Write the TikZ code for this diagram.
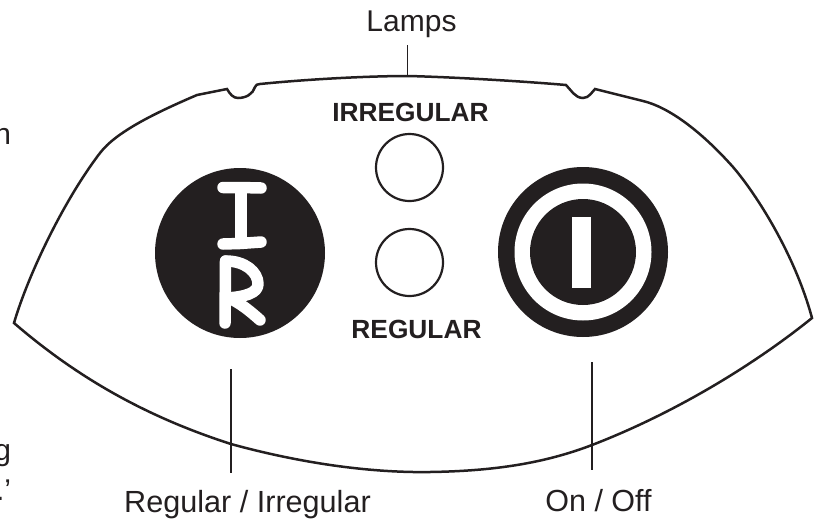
\documentclass[tikz,border=0pt]{standalone}
\usepackage{fontspec}
\setmainfont{Liberation Sans}
\definecolor{ink}{HTML}{231F20}
\tikzset{
  lbl/.style={inner sep=0pt,outer sep=0pt,anchor=base,text=ink,font=\fontsize{30}{34}\selectfont},
  lblr/.style={lbl,anchor=base east},
  sw/.style={inner sep=0pt,outer sep=0pt,anchor=base,text=ink,font=\fontsize{26.3}{30}\selectfont\bfseries},
  outline/.style={draw=ink,line width=2.5pt,line join=miter},
  leader/.style={draw=ink,line width=1.5pt},
  disc/.style={circle,fill=ink,inner sep=0pt,outer sep=0pt,minimum size=#1},
  lamp/.style={circle,draw=ink,line width=2.2pt,fill=white,inner sep=0pt,outer sep=0pt,minimum size=67pt},
  glyph/.style={draw=white,line width=11.5pt,line cap=round,line join=round}
}
\begin{document}
\begin{tikzpicture}[x=1pt,y=-1pt]
\useasboundingbox (0,0) rectangle (821,522);
\clip (0,0) rectangle (821,522);
% outline
\draw[outline] (14,323)
  .. controls (28,275) and (64,200) .. (100,153)
  .. controls (116,132) and (155,113) .. (197,95)
  -- (227,89)
  .. controls (230,94) and (233,98) .. (238,98)
  .. controls (246,98) and (253,94) .. (255,87)
  .. controls (256,85) and (257,84) .. (260,84)
  .. controls (310,79) and (370,76) .. (408,76)
  .. controls (450,77) and (520,81) .. (566,85)
  .. controls (571,90) and (575,98) .. (583,98)
  .. controls (589,98) and (592,92) .. (595,89)
  -- (643,101)
  .. controls (668,107) and (700,130) .. (733,167)
  .. controls (757,195) and (795,255) .. (812,318)
  .. controls (750,368) and (670,415) .. (592,445)
  .. controls (545,463) and (495,471) .. (430,472)
  .. controls (370,473) and (300,463) .. (231,444)
  .. controls (150,418) and (80,380) .. (14,323)
  -- cycle;
% left margin fragments
\node[lblr] (fragn) at (11,144) {n};
\node[lblr] (fragg) at (11,460) {g};
\node[lblr] (fragq) at (11,500) {.’};
% labels
\node[lbl] (lamps) at (411.5,31) {Lamps};
\node[lbl,font=\fontsize{30.6}{34}\selectfont] (reg) at (247.5,512) {Regular / Irregular};
\node[lbl,font=\fontsize{30.5}{34}\selectfont] (onoff) at (598.5,511) {On / Off};
\node[sw] (irr) at (410.5,121) {IRREGULAR};
\node[sw] (regsw) at (416.5,338) {REGULAR};
% lamps
\node[lamp] (lampa) at (409.5,167.5) {};
\node[lamp] (lampb) at (409.5,262.5) {};
% I/R button
\node[disc=170pt] (ir) at (240,253) {};
\draw[glyph] (223,187.5) -- (240,187.5) -- (261,188);
\draw[glyph] (241,188) -- (241,243);
\draw[glyph] (223,244) -- (240,243.5) -- (261,242);
\draw[glyph] (225.5,261) -- (225,323);
\draw[glyph] (226,261) .. controls (245,261) and (258,272) .. (258,284) .. controls (258,293) and (245,297) .. (226,298);
\draw[glyph] (229,298) .. controls (240,303) and (250,311) .. (260,320);
% on/off button
\node[disc=170pt] (on) at (583,252) {};
\node[circle,fill=white,inner sep=0pt,outer sep=0pt,minimum size=137pt] (onring) at (583,252) {};
\node[disc=106pt] (oninner) at (583,252) {};
\node[fill=white,inner sep=0pt,outer sep=0pt,minimum width=19pt,minimum height=71pt] (onbar) at (581.5,252) {};
% leaders
\coordinate (la) at (407.5,45);
\coordinate (lb) at (407.5,76);
\coordinate (ra) at (231,369);
\coordinate (rb) at (231,473);
\coordinate (oa) at (592,362);
\coordinate (ob) at (592,470);
\draw[leader] (la) -- (lb);
\draw[leader] (ra) -- (rb);
\draw[leader] (oa) -- (ob);
\end{tikzpicture}
\end{document}
